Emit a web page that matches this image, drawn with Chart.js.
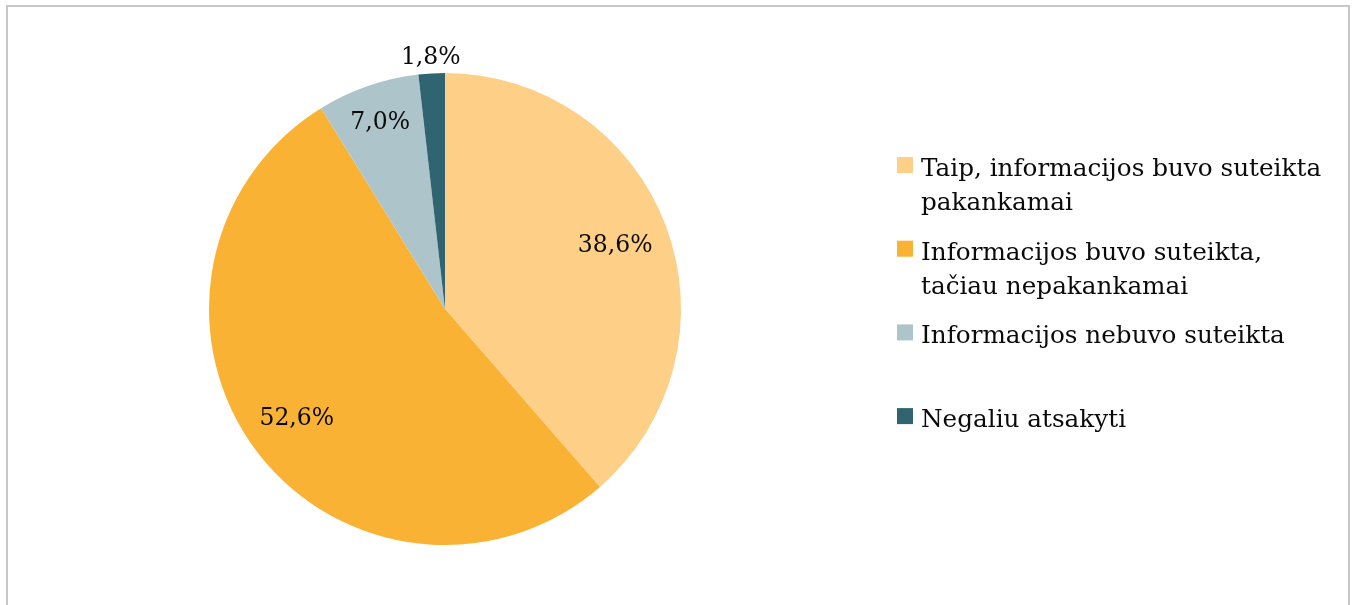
<!DOCTYPE html>
<html>
<head>
<meta charset="utf-8">
<script src="https://cdn.jsdelivr.net/npm/chart.js@4/dist/chart.umd.min.js"></script>
<style>
  html, body { margin: 0; padding: 0; background: #fff; overflow: hidden; }
  #frame {
    position: absolute; left: 6px; top: 5px; width: 1340px; height: 640px;
    border: 2px solid #c8c8c8; box-sizing: content-box;
  }
  #chart { position: absolute; left: 0; top: 0; }
</style>
</head>
<body>
<div id="frame"></div>
<canvas id="chart" width="1354" height="605"></canvas>
<script>
// Chart data
const categories = [
  ["Taip, informacijos buvo suteikta", "pakankamai"],
  ["Informacijos buvo suteikta,", "tačiau nepakankamai"],
  ["Informacijos nebuvo suteikta"],
  ["Negaliu atsakyti"],
];
const shares = [38.6, 52.6, 7.0, 1.8];
const sliceColors = ["#fdcf87", "#f9b233", "#aec4cb", "#2f6470"];

const FONT = "DejaVu Serif";

// draws the % labels on slices (Excel style, "1,8%")
const sliceLabels = {
  id: "sliceLabels",
  afterDatasetsDraw(chart, args, opts) {
    const ctx = chart.ctx;
    const meta = chart.getDatasetMeta(0);
    ctx.save();
    ctx.font = opts.size + "px '" + FONT + "'";
    ctx.fillStyle = "#0a0a0a";
    ctx.textAlign = "center";
    ctx.textBaseline = "middle";
    meta.data.forEach((arc, i) => {
      const p = arc.getProps(["x", "y", "startAngle", "endAngle", "outerRadius"], true);
      const mid = (p.startAngle + p.endAngle) / 2;
      const r = p.outerRadius * opts.radius[i];
      const txt = shares[i].toFixed(1).replace(".", ",") + "%";
      ctx.fillText(txt, p.x + Math.cos(mid) * r, p.y + Math.sin(mid) * r + 1);
    });
    ctx.restore();
  },
};

// legend on the right, fixed slot height like Excel
const sideLegend = {
  id: "sideLegend",
  afterDraw(chart, args, opts) {
    const ctx = chart.ctx;
    ctx.save();
    ctx.font = opts.size + "px '" + FONT + "'";
    ctx.textBaseline = "alphabetic";
    categories.forEach((lines, i) => {
      const base = opts.top + i * opts.step;
      ctx.fillStyle = sliceColors[i];
      ctx.fillRect(opts.left, base - 19, 16, 16);
      ctx.fillStyle = "#0a0a0a";
      lines.forEach((line, j) => {
        ctx.fillText(line, opts.left + 24, base + j * opts.lineHeight);
      });
    });
    ctx.restore();
  },
};

new Chart(document.getElementById("chart"), {
  type: "pie",
  data: {
    labels: categories.map((c) => c.join(" ")),
    datasets: [
      {
        data: shares,
        backgroundColor: sliceColors,
        borderWidth: 0,
        hoverOffset: 0,
      },
    ],
  },
  options: {
    responsive: false,
    animation: false,
    events: [],
    layout: { padding: { left: 209, right: 673, top: 73, bottom: 60 } },
    plugins: {
      legend: { display: false },
      tooltip: { enabled: false },
      sliceLabels: { size: 23.5, radius: [0.77, 0.78, 0.84, 1.07] },
      sideLegend: { size: 24.7, left: 897, top: 176, step: 83.7, lineHeight: 34 },
    },
  },
  plugins: [sliceLabels, sideLegend],
});
</script>
</body>
</html>
